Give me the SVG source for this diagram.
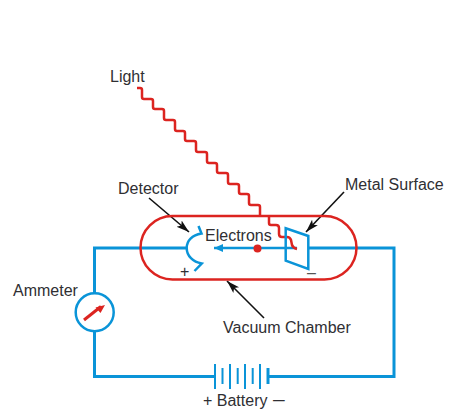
<svg xmlns="http://www.w3.org/2000/svg" width="465" height="420" viewBox="0 0 465 420">
<style>
text{font-family:"Liberation Sans",Arial,sans-serif;font-size:16px;fill:#2f2f33}
.w{fill:none;stroke:#0a94d8;stroke-width:3}
.b{fill:none;stroke:#0a94d8;stroke-width:2.500}
.p{fill:none;stroke:#0a94d8;stroke-width:2}
.r{fill:none;stroke:#dc2420;stroke-width:2.500;stroke-linejoin:round}
.k{fill:none;stroke:#111;stroke-width:1.600;marker-end:url(#ah)}
</style>
<defs>
<marker id="ah" markerUnits="userSpaceOnUse" markerWidth="14" markerHeight="10" refX="13" refY="5" orient="auto"><path d="M0 1L13 5L0 9L3 5Z" fill="#111"/></marker>
<marker id="ab" markerUnits="userSpaceOnUse" markerWidth="10" markerHeight="8" refX="9" refY="4" orient="auto"><path d="M0 0L9 4L0 8Z" fill="#0a94d8"/></marker>
</defs>
<g id="connectors">
<path class="w" d="M187 248H94.500V293M94.500 331V376.500H215"/>
<path class="w" d="M269 376.500H394V248H308"/>
<path class="b" d="M297 248H214" marker-end="url(#ab)"/>
<path class="k" d="M149 198L189 232"/>
<path class="k" d="M344 192L306 232"/>
<path class="k" d="M264 318L227 281"/>
<path class="r" d="M137 88H140Q142 88 142 90V97Q142 99 144 99H151Q153 99 153 101V107Q153 109 155 109H162Q164 109 164 111V118Q164 120 166 120H173Q175 120 175 122V129Q175 131 177 131H183Q185 131 185 133V139Q185 141 187 141H194Q196 141 196 143V150Q196 152 198 152H205Q207 152 207 154V161Q207 163 209 163H215Q217 163 217 165V171Q217 173 219 173H226Q228 173 228 175V182Q228 184 230 184H237Q239 184 239 186V192Q239 194 241 194H247Q249 194 249 196V203Q249 205 251 205H258Q260 205 260 207V215"/>
<path class="r" d="M269 216V223Q269 225 271 225H276Q279 225 279 228V234Q279 237 282 237H287Q290 237 291 240L292 245Q293 248 297 249"/>
</g>
<g id="vacuum-chamber"><rect x="140.500" y="216" width="216" height="63.500" rx="32" class="r"/><text x="223" y="333">Vacuum Chamber</text></g>
<g id="detector"><path class="b" d="M198.500 226L201.500 233.500C192 235 186.700 241 186.700 248C186.700 256 193 262 201.700 263.500L194.500 271"/><text x="118" y="194">Detector</text><text x="180" y="277">+</text></g>
<g id="metal-surface"><path class="b" d="M285.700 228.300L308.300 236V269L285.700 260.700Z"/><text x="345" y="190">Metal Surface</text><text x="307" y="278" style="fill:#555">–</text></g>
<g id="electron"><circle cx="257.500" cy="248.500" r="4" fill="#dc2420"/><text x="205" y="241">Electrons</text></g>
<g id="light"><text x="110" y="82">Light</text></g>
<g id="ammeter"><circle cx="94.700" cy="312.200" r="19" fill="#fff" stroke="#0a94d8" stroke-width="2.500"/><path d="M84 320L101 306.500" stroke="#dc2420" stroke-width="3"/><path d="M105 305L95.500 307.500L100.500 313Z" fill="#dc2420"/><text x="13" y="296">Ammeter</text></g>
<g id="battery">
<path class="p" d="M215 364V389M222.500 368V384M230 364V389M237.700 368V384M245 364V389M252.700 368V384M260 364V389"/>
<path class="w" d="M268 368V384"/>
<text x="203" y="406">+ Battery <tspan dx="1" style="font-size:21px">–</tspan></text></g>
</svg>
